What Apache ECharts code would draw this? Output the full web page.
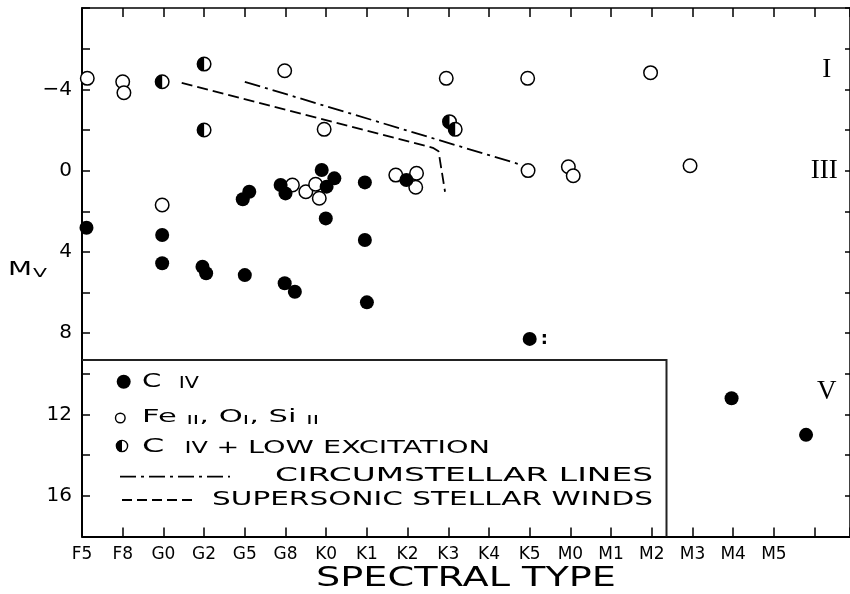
<!DOCTYPE html>
<html><head><meta charset="utf-8">
<script src="https://cdn.jsdelivr.net/npm/echarts@6/dist/echarts.min.js"></script>
<style>html,body{margin:0;padding:0;background:#fff}#c{width:850px;height:594px}</style>
</head><body><div id="c"></div>
<script>
// ---- data (x = index into spectralTypes, y = absolute magnitude Mv) ----
const spectralTypes = ['F5','F8','G0','G2','G5','G8','K0','K1','K2','K3','K4','K5','M0','M1','M2','M3','M4','M5'];
const yTickLabels = [-4, 0, 4, 8, 12, 16];
// C IV (filled circles)
const civ = [
  [0.11, 2.81], [1.97, 3.17], [1.97, 4.56], [2.96, 4.73], [3.05, 5.05],
  [4.0, 5.14], [3.95, 1.41], [4.11, 1.04], [4.88, 0.71], [5.0, 1.12],
  [4.98, 5.54], [5.23, 5.96], [5.89, -0.03], [6.2, 0.38], [6.01, 0.79],
  [5.99, 2.35], [6.95, 0.58], [6.95, 3.41], [7.0, 6.48], [7.97, 0.46],
  [11.0, 8.28], [15.96, 11.2], [17.79, 13.0]
];
// Fe II, O I, Si II (open circles)
const lowExcitation = [
  [0.13, -4.54], [1.0, -4.37], [1.03, -3.83], [4.98, -4.91], [1.97, 1.69],
  [5.95, -2.03], [5.17, 0.71], [5.5, 1.04], [5.74, 0.67], [5.83, 1.36],
  [7.71, 0.22], [8.22, 0.13], [8.2, 0.82], [8.95, -4.54], [10.95, -4.54],
  [10.96, 0.0], [11.95, -0.19], [12.07, 0.25], [13.97, -4.82], [14.94, -0.24]
];
// C IV + low excitation (half-filled circles)
const civPlusLow = [[1.97, -4.37], [3.0, -5.24], [3.0, -2.0], [9.03, -2.41], [9.17, -2.03]];
// dividing lines
const circumstellarLine = [[4.0, -4.37], [10.8, -0.28]];
const windsLine = [[2.45, -4.32], [8.62, -1.12], [8.76, -0.95], [8.92, 1.04]];
// luminosity class annotations [text, x, Mv]
const classLabels = [['I', 18.3, -4.96], ['III', 18.24, 0.02], ['V', 18.3, 10.87]];
const uncertainPoint = [11.0, 8.28]; // marked with ':'

// ---- helpers ----
const FAM = '"DejaVu Sans", sans-serif';
const mctx = document.createElement('canvas').getContext('2d');
function mw(str, size){ mctx.font = size + 'px ' + FAM; return mctx.measureText(str).width; }
function rich(segs){
  const r = {}; let t = ''; let w = 0;
  const fmax = Math.max.apply(null, segs.map(s => s[1]));
  segs.forEach((s, i) => {
    const lh = s[1] + 0.7 * (fmax - s[1]);
    r['s' + i] = {fontSize: s[1], fontFamily: FAM, color: '#000', verticalAlign: 'bottom', lineHeight: lh};
    t += '{s' + i + '|' + s[0] + '}';
    w += mw(s[0], s[1]);
  });
  return {text: t, rich: r, width: w};
}
function stretchedText(segs, x, y, targetW, align){
  const rt = rich(segs);
  return {type: 'text', x: x, y: y, scaleX: targetW / rt.width, silent: true, zlevel: 1, z: 100,
    style: {text: rt.text, rich: rt.rich, fill: '#000', align: align || 'left', verticalAlign: 'middle',
            textAlign: align || 'left', textVerticalAlign: 'middle'}};
}
function deco(el){ el.silent = true; el.zlevel = 1; el.z = 100; return el; }
const halfPath = 'path://M50 0 A50 50 0 0 0 50 100 Z';

const chart = echarts.init(document.getElementById('c'), null, {renderer: 'canvas'});
const black = '#000';
const axisCommon = {type: 'value', splitLine: {show: false}};

const civData = civ.map(p => (p[0] === uncertainPoint[0] && p[1] === uncertainPoint[1]) ?
  {value: p, label: {show: true, formatter: ':', position: 'right', distance: 4,
    fontSize: 18, fontWeight: 'bold', color: black, fontFamily: FAM}} : p);

const option = {
  animation: false,
  backgroundColor: '#fff',
  grid: {left: 82, right: 0, top: 8, bottom: 57.5, containLabel: false, outerBoundsMode: 'none'},
  xAxis: [
    Object.assign({}, axisCommon, {position: 'bottom', min: 0, max: 18.87, interval: 1,
      axisLine: {show: true, onZero: false, lineStyle: {color: black, width: 2}},
      axisTick: {show: true, inside: true, length: 9, lineStyle: {color: black, width: 1.5}},
      axisLabel: {show: true, margin: 10, color: black, fontFamily: FAM, fontSize: 17,
        formatter: v => (Number.isInteger(v) && spectralTypes[v]) ? spectralTypes[v] : ''}}),
    Object.assign({}, axisCommon, {position: 'top', min: 0, max: 18.87, interval: 1,
      axisLine: {show: true, onZero: false, lineStyle: {color: black, width: 1.5}},
      axisTick: {show: true, inside: true, length: 9, lineStyle: {color: black, width: 1.5}},
      axisLabel: {show: false}})
  ],
  yAxis: [
    Object.assign({}, axisCommon, {position: 'left', inverse: true, min: -8, max: 18, interval: 2,
      axisLine: {show: true, onZero: false, lineStyle: {color: black, width: 2}},
      axisTick: {show: true, inside: true, length: 8, lineStyle: {color: black, width: 1.5}},
      axisLabel: {show: true, margin: 10, color: black, fontFamily: FAM, fontSize: 20,
        formatter: v => yTickLabels.indexOf(v) >= 0 ? (v < 0 ? '\u2212' + (-v) : String(v)) : ''}}),
    Object.assign({}, axisCommon, {position: 'right', inverse: true, min: -8, max: 18, interval: 2,
      axisLine: {show: true, onZero: false, lineStyle: {color: black, width: 1.5}},
      axisTick: {show: true, inside: true, length: 5, lineStyle: {color: black, width: 1.5}},
      axisLabel: {show: false}})
  ],
  series: [
    {type: 'line', data: circumstellarLine, symbol: 'none', silent: true, lineStyle: {color: black, width: 1.8, type: [16, 5, 3, 5]}, z: 1},
    {type: 'line', data: windsLine, symbol: 'none', silent: true, lineStyle: {color: black, width: 1.8, type: [11, 5]}, z: 1},
    {type: 'scatter', data: lowExcitation, symbolSize: 13.5, clip: false, silent: true, itemStyle: {color: '#fff', borderColor: black, borderWidth: 1.5, opacity: 1}, z: 2},
    {type: 'scatter', data: civData, symbolSize: 14, clip: false, silent: true, itemStyle: {color: black, opacity: 1}, z: 3},
    {type: 'scatter', data: civPlusLow, symbolSize: 13.5, clip: false, silent: true, itemStyle: {color: '#fff', borderColor: black, borderWidth: 1.5, opacity: 1}, z: 4},
    {type: 'scatter', data: civPlusLow, symbol: halfPath, symbolSize: [6.75, 13.5], symbolOffset: [-3.375, 0], clip: false, silent: true, itemStyle: {color: black, opacity: 1}, z: 5},
    {type: 'scatter', data: classLabels.map(c => ({value: [c[1], c[2]], name: c[0]})), symbolSize: 0, clip: false, silent: true, z: 6, itemStyle: {opacity: 1},
      label: {show: true, position: 'inside', formatter: p => p.name, color: black, fontFamily: '"Liberation Serif", serif', fontSize: 27}}
  ],
  graphic: [
    // legend box
    deco({type: 'polyline', shape: {points: [[82, 360], [666.5, 360], [666.5, 536.5]]}, style: {stroke: '#222', lineWidth: 2, fill: null}}),
    // legend markers
    deco({type: 'circle', shape: {cx: 123.7, cy: 381.7, r: 7}, style: {fill: black}}),
    deco({type: 'circle', shape: {cx: 120.3, cy: 418, r: 4.8}, style: {fill: '#fff', stroke: black, lineWidth: 1.4}}),
    deco({type: 'circle', shape: {cx: 122, cy: 446, r: 5.6}, style: {fill: '#fff', stroke: black, lineWidth: 1.4}}),
    deco({type: 'sector', shape: {cx: 122, cy: 446, r: 5.9, r0: 0, startAngle: Math.PI / 2, endAngle: Math.PI * 3 / 2}, style: {fill: black}}),
    deco({type: 'line', shape: {x1: 120, y1: 476.7, x2: 230, y2: 476.7}, style: {stroke: black, lineWidth: 1.8, lineDash: [16, 5, 3, 5]}}),
    deco({type: 'line', shape: {x1: 122, y1: 500, x2: 196, y2: 500}, style: {stroke: black, lineWidth: 1.8, lineDash: [10, 5]}}),
    // legend texts
    stretchedText([['C', 20], ['  ', 20], ['IV', 15]], 142, 382, 57),
    stretchedText([['Fe', 17], [' ', 17], ['II', 12], [', ', 17], ['O', 17], ['I', 12], [', ', 17], ['Si', 17], [' ', 17], ['II', 12]], 142, 418, 177),
    stretchedText([['C', 20], ['  ', 20], ['IV', 15], [' + ', 17], ['LOW EXCITATION', 18]], 142, 447, 348),
    stretchedText([['CIRCUMSTELLAR LINES', 19]], 653, 476, 378, 'right'),
    stretchedText([['SUPERSONIC STELLAR WINDS', 19]], 653, 500, 441, 'right'),
    // axis titles
    stretchedText([['SPECTRAL TYPE', 27]], 466, 579, 300, 'center'),
    stretchedText([['M', 20]], 8, 270, 24),
    stretchedText([['V', 13]], 33, 274, 14)
  ]
};
chart.setOption(option);
</script>
</body></html>
